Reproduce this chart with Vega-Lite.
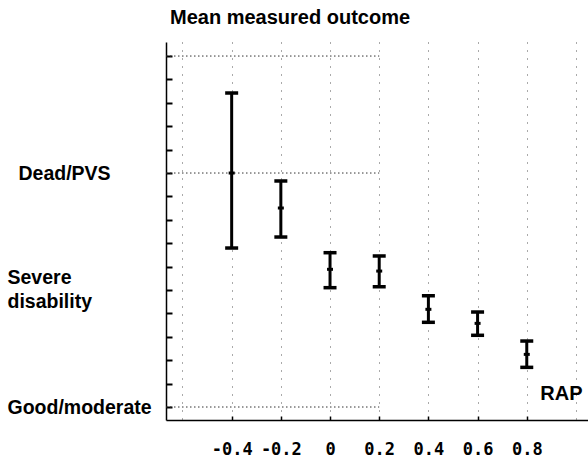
{
  "$schema": "https://vega.github.io/schema/vega-lite/v6.json",
  "width": 422,
  "height": 378,
  "autosize": "none",
  "padding": {"left": 166, "top": 42, "right": 0, "bottom": 39},
  "background": "white",
  "title": {"text": "Mean measured outcome", "anchor": "start", "frame": "group", "font": "Liberation Sans", "fontSize": 20, "fontWeight": "bold", "color": "black", "offset": 14, "dx": 4},
  "config": {"view": {"stroke": null}},
  "datasets": {
    "bars": [
      {"rap": -0.4, "lo": 2.359, "mean": 3.0, "hi": 3.684},
      {"rap": -0.2, "lo": 2.453, "mean": 2.701, "hi": 2.932},
      {"rap": 0.0, "lo": 2.020, "mean": 2.177, "hi": 2.319},
      {"rap": 0.2, "lo": 2.028, "mean": 2.162, "hi": 2.291},
      {"rap": 0.4, "lo": 1.724, "mean": 1.835, "hi": 1.951},
      {"rap": 0.6, "lo": 1.613, "mean": 1.715, "hi": 1.812},
      {"rap": 0.8, "lo": 1.339, "mean": 1.450, "hi": 1.564}
    ],
    "levels": [{"outcome": 1}, {"outcome": 3}, {"outcome": 4}]
  },
  "layer": [
    {
      "data": {"name": "bars"},
      "mark": {"type": "rule", "color": "black", "strokeWidth": 3},
      "encoding": {
        "x": {
          "field": "rap", "type": "quantitative",
          "scale": {"domain": [-0.667, 1.049], "nice": false, "zero": false},
          "axis": {
            "values": [-0.6, -0.4, -0.2, 0, 0.2, 0.4, 0.6, 0.8, 1.0],
            "tickCount": 20,
            "labelExpr": "datum.value < -0.5 || datum.value > 0.9 ? '' : abs(datum.value) < 0.01 ? '0' : (datum.value < 0 ? '-' : '') + format(abs(datum.value), '.1f')",
            "labelFont": "DejaVu Sans Mono", "labelFontWeight": "bold", "labelFontSize": 17, "labelColor": "black",
            "labelPadding": 25, "labelFlush": false, "labelOverlap": false,
            "tickSize": -4, "tickWidth": 1.5, "tickColor": "black",
            "tickOpacity": {"condition": {"test": "datum.value < -0.5 || datum.value > 0.9", "value": 0}, "value": 1},
            "domainColor": "black", "domainWidth": 1.5,
            "grid": true, "gridColor": "#555", "gridDash": [1, 7], "gridWidth": 1,
            "title": "RAP", "titleX": 416, "titleY": -27, "titleAlign": "right", "titleBaseline": "middle",
            "titleFont": "Liberation Sans", "titleFontSize": 20, "titleFontWeight": "bold", "titleColor": "black"
          }
        },
        "y": {
          "field": "lo", "type": "quantitative",
          "scale": {"domain": [0.889, 4.12], "nice": false, "zero": false},
          "axis": {
            "values": [1, 1.2, 1.4, 1.6, 1.8, 2, 2.2, 2.4, 2.6, 2.8, 3, 3.2, 3.4, 3.6, 3.8, 4],
            "tickCount": 40,
            "labelExpr": "abs(datum.value-1)<0.01 ? 'Good/moderate' : abs(datum.value-2)<0.01 ? ['Severe','disability'] : abs(datum.value-3)<0.01 ? 'Dead/PVS' : ''",
            "labelAlign": "left", "labelBaseline": "middle",
            "labelFont": "Liberation Sans", "labelFontSize": 19.5, "labelFontWeight": "bold", "labelColor": "black",
            "labelLineHeight": 24, "labelOverlap": false, "labelFlush": false,
            "labelPadding": {"condition": {"test": "abs(datum.value-3)<0.01", "value": 154}, "value": 165},
            "labelOffset": {"condition": {"test": "abs(datum.value-2)<0.01", "value": -13}, "value": 0},
            "tickSize": -6, "tickWidth": 2, "tickColor": "black",
            "domainColor": "black", "domainWidth": 1.5,
            "grid": false, "title": null
          }
        },
        "y2": {"field": "hi"}
      }
    },
    {
      "data": {"name": "levels"},
      "mark": {"type": "rule", "color": "#333", "strokeWidth": 1, "strokeDash": [1.5, 2.5]},
      "encoding": {
        "y": {"field": "outcome", "type": "quantitative"},
        "x": {"datum": -0.667},
        "x2": {"datum": 0.2}
      }
    },
    {
      "data": {"name": "bars"},
      "mark": {"type": "tick", "orient": "horizontal", "color": "black", "opacity": 1, "size": 13, "thickness": 3.5},
      "encoding": {
        "x": {"field": "rap", "type": "quantitative"},
        "y": {"field": "lo", "type": "quantitative"}
      }
    },
    {
      "data": {"name": "bars"},
      "mark": {"type": "tick", "orient": "horizontal", "color": "black", "opacity": 1, "size": 13, "thickness": 3.5},
      "encoding": {
        "x": {"field": "rap", "type": "quantitative"},
        "y": {"field": "hi", "type": "quantitative"}
      }
    },
    {
      "data": {"name": "bars"},
      "mark": {"type": "tick", "orient": "horizontal", "color": "black", "opacity": 1, "size": 6, "thickness": 3},
      "encoding": {
        "x": {"field": "rap", "type": "quantitative"},
        "y": {"field": "mean", "type": "quantitative"}
      }
    }
  ]
}
